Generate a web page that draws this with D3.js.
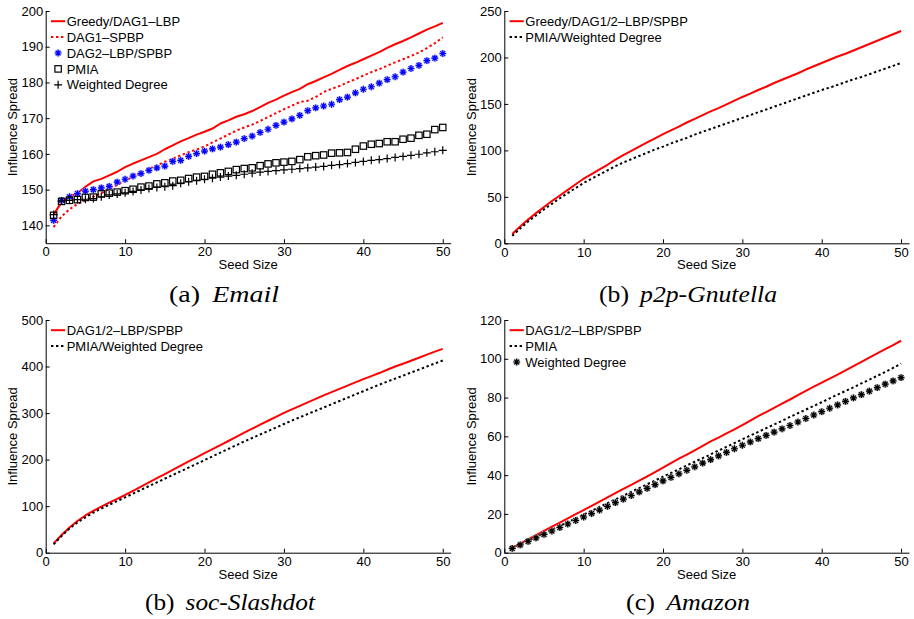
<!DOCTYPE html>
<html><head><meta charset="utf-8">
<script src="https://cdn.jsdelivr.net/npm/d3@7"></script>
<style>body{margin:0;background:#fff} svg{display:block}</style>
</head><body>
<svg id="c" width="914" height="619"></svg>
<script>
const seedSizes = d3.range(1, 51);
const xTicks = [0, 10, 20, 30, 40, 50];

// (a) Email
const emailTicks = [140, 150, 160, 170, 180, 190, 200];
const emailGreedy = [143.0,146.5,148.0,149.0,150.8,152.3,153.0,154.0,155.0,156.3,157.3,158.2,159.1,160.0,161.3,162.4,163.5,164.4,165.4,166.2,167.1,168.5,169.4,170.4,171.1,172.0,173.1,174.3,175.2,176.3,177.3,178.2,179.5,180.4,181.4,182.4,183.5,184.6,185.5,186.5,187.5,188.5,189.7,190.7,191.6,192.6,193.7,194.8,195.7,196.7];
const emailDag1Spbp = [139.5,142.5,144.5,146.0,147.0,148.0,149.0,150.2,151.3,152.5,153.6,154.7,155.8,156.8,157.8,158.6,159.6,160.5,161.2,162.1,163.2,164.3,165.4,166.5,167.4,168.2,169.2,170.3,171.4,172.5,173.5,174.5,174.9,175.9,177.3,178.2,179.0,180.0,180.9,181.9,182.9,183.7,184.7,185.6,186.5,187.4,188.4,189.6,191.0,192.6];
const emailDag2 = [141.4,147.0,148.0,148.9,149.6,150.0,150.5,150.9,152.1,152.9,153.8,154.5,155.4,156.1,156.6,157.9,158.2,159.3,160.1,160.8,161.4,161.9,162.6,163.3,164.3,165.0,166.0,166.9,168.0,168.9,169.8,170.8,172.1,172.9,173.4,173.9,175.2,175.9,177.1,178.1,178.8,179.8,180.8,181.6,182.9,183.9,184.8,186.1,186.8,188.1];
const emailPmia = [142.8,146.7,147.0,147.2,147.8,147.9,148.8,149.0,149.3,149.7,150.1,150.7,151.0,151.6,151.9,152.4,152.6,153.1,153.5,153.7,154.3,154.7,155.1,155.6,155.9,156.1,156.7,157.2,157.5,157.7,157.9,158.4,159.2,159.5,159.7,160.2,160.3,160.4,161.3,162.2,162.7,162.9,163.4,163.4,164.1,164.4,165.2,165.5,166.8,167.4];
const emailWDegree = [143.0,146.8,147.0,147.2,147.3,147.5,148.0,148.5,148.8,149.1,149.5,149.9,150.3,150.6,150.8,151.1,151.8,152.2,152.5,152.9,153.2,153.5,153.8,154.0,154.3,154.6,154.9,155.1,155.3,155.5,155.7,155.9,156.1,156.3,156.5,156.8,157.0,157.3,157.6,157.9,158.2,158.4,158.7,159.0,159.3,159.6,159.9,160.3,160.6,161.0];

// (b) p2p-Gnutella
const p2pTicks = [0, 50, 100, 150, 200, 250];
const p2pGreedy = [10,18,25.5,32.5,39,45.5,51.5,57.5,63.5,69.5,74.5,79.5,84.5,90,95,99.5,104,108.5,113,117.5,121.5,125.5,130,134,138,142,145.5,149.5,153.5,157.5,161,165,168.5,172.5,176,179.5,183,187,190.5,194,197.5,201,204,207.5,211,214.5,218,221.5,225,228.5];
const p2pPmia = [8,16,23.5,30,36.5,42.5,48.5,54,59.5,65,69.5,74,78.5,83,87,90.5,94,97.5,101,104,107.5,110.5,113.5,117,120,123,126,129,132,135,138,141,144,147,150,153,156,159,162,165,167.5,170.5,173.5,176.5,179,182,185,188,191,194];

// (b) soc-Slashdot
const slashTicks = [0, 100, 200, 300, 400, 500];
const slashDag = [20,38,54,68,80,90,99,107.5,115.5,124,133,142,151,160,169,178,187,196,205,214,222.5,231,240,249,258,266.5,275,283.5,292,300.5,308,315.5,323,330.5,338,345,352,359,366,373,379.5,386,393,400,406,412.5,419,425.5,432,438];
const slashPmia = [18,36,52,65,76,86,95,103,111,119,127,135,143,151,159,167,175,183,191,199,207,215,223,231,239,246.5,254,261.5,269,276.5,284,291,298,305,312,319,326,333,340,347,354,361,367.5,374,380.5,387,393.5,400,406.5,413];

// (c) Amazon
const amazonTicks = [0, 20, 40, 60, 80, 100, 120];
const amazonDag = [2.5,4.7,6.9,9.0,11.2,13.4,15.5,17.7,19.9,22.0,24.2,26.4,28.5,30.7,32.9,35.0,37.2,39.3,41.6,43.9,46.2,48.5,50.6,52.8,55.1,57.4,59.3,61.5,63.6,65.8,68.1,70.4,72.5,74.7,76.9,79.0,81.2,83.5,85.6,87.7,89.8,91.8,94.0,96.2,98.4,100.6,102.8,105.0,107.1,109.3];
const amazonPmia = [2.2,4.2,6.1,8.0,10.0,11.9,13.8,15.8,17.7,19.7,21.6,23.6,25.5,27.5,29.4,31.4,33.3,35.3,37.2,39.2,41.1,43.0,45.0,46.9,48.8,50.7,52.7,54.6,56.5,58.5,60.4,62.3,64.2,66.1,68.0,70.0,71.9,73.8,75.7,77.6,79.6,81.5,83.4,85.3,87.3,89.2,91.2,93.2,95.3,97.5];
const amazonWDegree = [2.2,4.0,5.8,7.6,9.4,11.2,13.0,14.8,16.6,18.4,20.2,22.0,23.9,25.8,27.6,29.5,31.4,33.2,35.1,37.0,38.8,40.7,42.5,44.3,46.2,48.0,49.9,51.7,53.6,55.4,57.1,58.8,60.5,62.2,63.9,65.6,67.4,69.2,71.0,72.7,74.5,76.2,78.0,79.8,81.5,83.3,85.1,86.9,88.6,90.3];

const RED = "#ff0000", BLUE = "#0000ff", BLACK = "#000000";
const FONT = "'Liberation Sans', Arial, Helvetica, sans-serif";

const panels = [
  { L: 45.7, T: 11, R: 450.7, B: 243.2, yDomain: [135, 200], yTicks: emailTicks,
    cap: ["(a)", "Email"], capX: 224, capY: 302, capW: 110,
    series: [
      { name: "Greedy/DAG1\u2013LBP", values: emailGreedy, color: RED, kind: "solid" },
      { name: "DAG1\u2013SPBP", values: emailDag1Spbp, color: RED, kind: "dotted" },
      { name: "DAG2\u2013LBP/SPBP", values: emailDag2, color: BLUE, kind: "star", halo: "#aeaeff" },
      { name: "PMIA", values: emailPmia, color: BLACK, kind: "square" },
      { name: "Weighted Degree", values: emailWDegree, color: BLACK, kind: "plus" }
    ] },
  { L: 504.3, T: 11, R: 909, B: 243.3, yDomain: [0, 250], yTicks: p2pTicks,
    cap: ["(b)", "p2p-Gnutella"], capX: 688, capY: 302, capW: 178,
    series: [
      { name: "Greedy/DAG1/2\u2013LBP/SPBP", values: p2pGreedy, color: RED, kind: "solid" },
      { name: "PMIA/Weighted Degree", values: p2pPmia, color: BLACK, kind: "dotted" }
    ] },
  { L: 45.7, T: 320, R: 450.7, B: 552.7, yDomain: [0, 500], yTicks: slashTicks,
    cap: ["(b)", "soc-Slashdot"], capX: 230, capY: 610, capW: 170,
    series: [
      { name: "DAG1/2\u2013LBP/SPBP", values: slashDag, color: RED, kind: "solid" },
      { name: "PMIA/Weighted Degree", values: slashPmia, color: BLACK, kind: "dotted" }
    ] },
  { L: 504.3, T: 320, R: 909, B: 552.7, yDomain: [0, 120], yTicks: amazonTicks,
    cap: ["(c)", "Amazon"], capX: 688, capY: 610, capW: 124,
    series: [
      { name: "DAG1/2\u2013LBP/SPBP", values: amazonDag, color: RED, kind: "solid" },
      { name: "PMIA", values: amazonPmia, color: BLACK, kind: "dotted" },
      { name: "Weighted Degree", values: amazonWDegree, color: BLACK, kind: "star", halo: "#a8a8a8" }
    ] }
];

const svg = d3.select("#c");

function starPath(r) {
  const a = r * 0.707;
  return `M${-r},0H${r}M0,${-r}V${r}M${-a},${-a}L${a},${a}M${-a},${a}L${a},${-a}`;
}
function drawMarker(g, kind, color, halo) {
  if (kind === "star") {
    g.append("circle").attr("r", 3.6).attr("fill", halo).attr("opacity", 0.75);
    g.append("path").attr("d", starPath(3.4)).attr("stroke", color).attr("stroke-width", 1.2).attr("fill", "none");
  } else if (kind === "square") {
    g.append("rect").attr("x", -3.2).attr("y", -3.2).attr("width", 6.4).attr("height", 6.4)
      .attr("fill", "none").attr("stroke", color).attr("stroke-width", 1.2);
  } else if (kind === "plus") {
    g.append("path").attr("d", "M-4,0H4M0,-4V4").attr("stroke", color).attr("stroke-width", 1.2).attr("fill", "none");
  }
}

panels.forEach(p => {
  const x = d3.scaleLinear().domain([0, 51]).range([p.L, p.R]);
  const y = d3.scaleLinear().domain(p.yDomain).range([p.B, p.T]);
  const g = svg.append("g");

  const xa = g.append("g").attr("transform", `translate(0,${p.B})`)
    .call(d3.axisBottom(x).tickValues(xTicks).tickSizeInner(-4).tickSizeOuter(0).tickPadding(4));
  const ya = g.append("g").attr("transform", `translate(${p.L},0)`)
    .call(d3.axisLeft(y).tickValues(p.yTicks).tickSizeInner(-4).tickSizeOuter(0).tickPadding(2.5));
  [xa, ya].forEach(a => {
    a.attr("font-family", FONT).attr("font-size", 13);
    a.selectAll("path.domain, line").attr("stroke", "#000").attr("stroke-width", 1);
    a.selectAll("text").attr("fill", "#000");
  });

  g.append("text").attr("x", (p.L + p.R) / 2).attr("y", p.B + 26).attr("text-anchor", "middle")
    .attr("font-family", FONT).attr("font-size", 13).text("Seed Size");
  g.append("text").attr("transform", `translate(${p.L - 33},${(p.T + p.B) / 2}) rotate(-90)`)
    .attr("dy", "0.35em").attr("text-anchor", "middle")
    .attr("font-family", FONT).attr("font-size", 13).text("Influence Spread");

  const line = d3.line().x((d, i) => x(seedSizes[i])).y(d => y(d));

  p.series.forEach(s => {
    if (s.kind === "solid" || s.kind === "dotted") {
      g.append("path").datum(s.values).attr("d", line).attr("fill", "none")
        .attr("stroke", s.color).attr("stroke-width", 2)
        .attr("stroke-dasharray", s.kind === "dotted" ? "2.4,2.6" : null)
        .attr("stroke-linejoin", "round");
    } else {
      s.values.forEach((v, i) => {
        const mg = g.append("g").attr("transform", `translate(${x(seedSizes[i])},${y(v)})`);
        drawMarker(mg, s.kind, s.color, s.halo);
      });
    }
  });

  // legend
  const lx0 = p.L + 5.3, lx1 = p.L + 19.5, tx = p.L + 21;
  p.series.forEach((s, i) => {
    const ly = p.T + 10.2 + i * 15.9;
    if (s.kind === "solid" || s.kind === "dotted") {
      g.append("line").attr("x1", lx0).attr("x2", lx1).attr("y1", ly).attr("y2", ly)
        .attr("stroke", s.color).attr("stroke-width", 2)
        .attr("stroke-dasharray", s.kind === "dotted" ? "2.4,2.6" : null);
    } else {
      const mg = g.append("g").attr("transform", `translate(${(lx0 + lx1) / 2},${ly})`);
      drawMarker(mg, s.kind, s.color, s.halo);
    }
    g.append("text").attr("x", tx).attr("y", ly).attr("dy", "0.36em")
      .attr("font-family", FONT).attr("font-size", 13).text(s.name);
  });

  // caption
  const cap = g.append("text").attr("x", p.capX).attr("y", p.capY).attr("text-anchor", "middle")
    .attr("font-family", "'Liberation Serif', 'Times New Roman', serif").attr("font-size", 23);
  cap.append("tspan").text(p.cap[0]);
  cap.append("tspan").attr("dx", 10).attr("font-style", "italic").text(p.cap[1]);
  const w = cap.node().getComputedTextLength();
  if (Math.abs(w - p.capW) > 2) {
    cap.attr("textLength", p.capW).attr("lengthAdjust", "spacingAndGlyphs");
  }
});
</script>
</body></html>
